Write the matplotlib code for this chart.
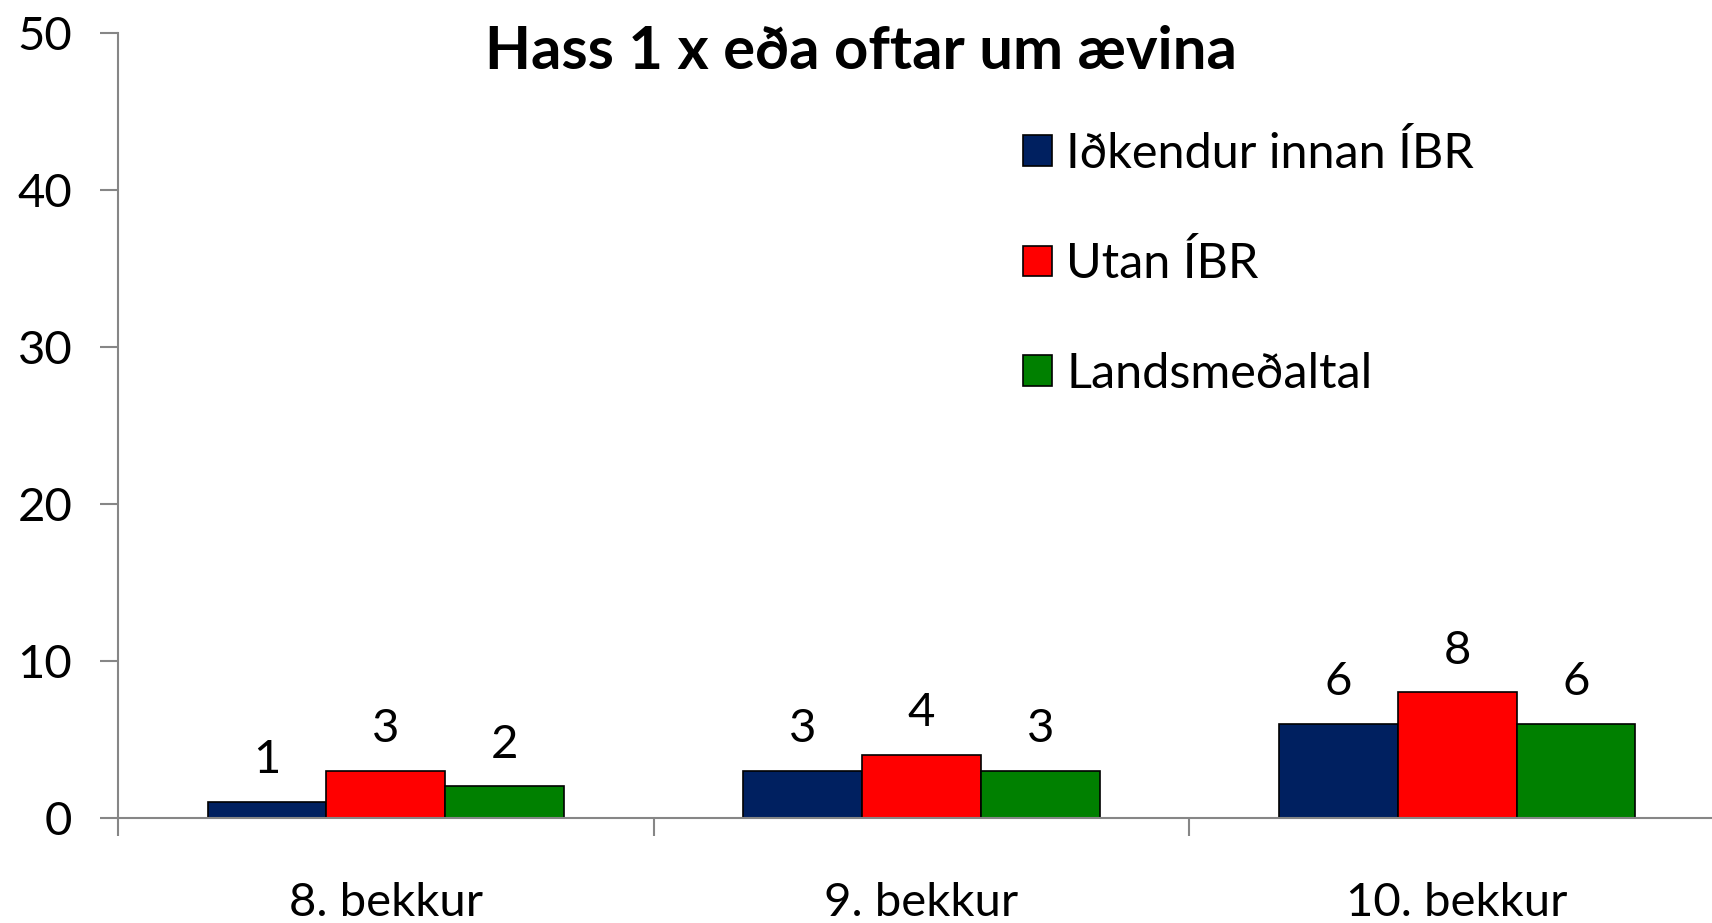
import numpy as np
from matplotlib import pyplot as plt

# Данные диаграммы
categories = ['8. bekkur', '9. bekkur', '10. bekkur']
series_names = ['Iðkendur innan ÍBR', 'Utan ÍBR', 'Landsmeðaltal']
innan = [1, 3, 6]
utan = [3, 4, 8]
lands = [2, 3, 6]
colors = ['#002060', '#FF0000', '#008000']
y_ticks = [0, 10, 20, 30, 40, 50]

plt.rcParams['font.family'] = ['Lato', 'DejaVu Sans']

fig = plt.figure(figsize=(17.12, 9.23), dpi=100)
ax = fig.add_axes([0.069, 0.114, 0.9385, 0.85])

x = np.arange(len(categories))
width = 0.222
for i, (vals, name, col) in enumerate(zip([innan, utan, lands], series_names, colors)):
    bars = ax.bar(x + (i - 1) * width, vals, width, color=col, edgecolor='black',
                  linewidth=1.2, label=name)
    for b, v in zip(bars, vals):
        ax.annotate(str(v), (b.get_x() + b.get_width() / 2, v), xytext=(0, 30),
                    textcoords='offset points', ha='center', va='center', fontsize=34)

ax.set_xlim(-0.5, 2.5)
ax.set_ylim(0, 50)
ax.set_yticks(y_ticks)
ax.tick_params(axis='y', labelsize=34, length=13, width=1.5, color='#868686', pad=20)

# Метки категорий между делениями
ax.set_xticks([-0.5, 0.5, 1.5, 2.5])
ax.set_xticklabels([])
ax.set_xticks(x, minor=True)
ax.set_xticklabels(categories, minor=True, fontsize=34)
ax.tick_params(axis='x', which='major', length=13, width=1.5, color='#868686')
ax.tick_params(axis='x', which='minor', length=0, pad=46)

for s in ['top', 'right']:
    ax.spines[s].set_visible(False)
for s in ['left', 'bottom']:
    ax.spines[s].set_color('#868686')
    ax.spines[s].set_linewidth(1.5)

fig.text(0.503, 0.944, 'Hass 1 x eða oftar um ævina', ha='center', va='center',
         fontsize=43, fontweight='bold')

ax.legend(loc='upper left', bbox_to_anchor=(0.563, 0.876), frameon=False, fontsize=35,
          handlelength=0.6, handleheight=0.6, handletextpad=0.3, labelspacing=1.35,
          borderaxespad=0, borderpad=0)

fig.savefig('out.png', dpi=100)
